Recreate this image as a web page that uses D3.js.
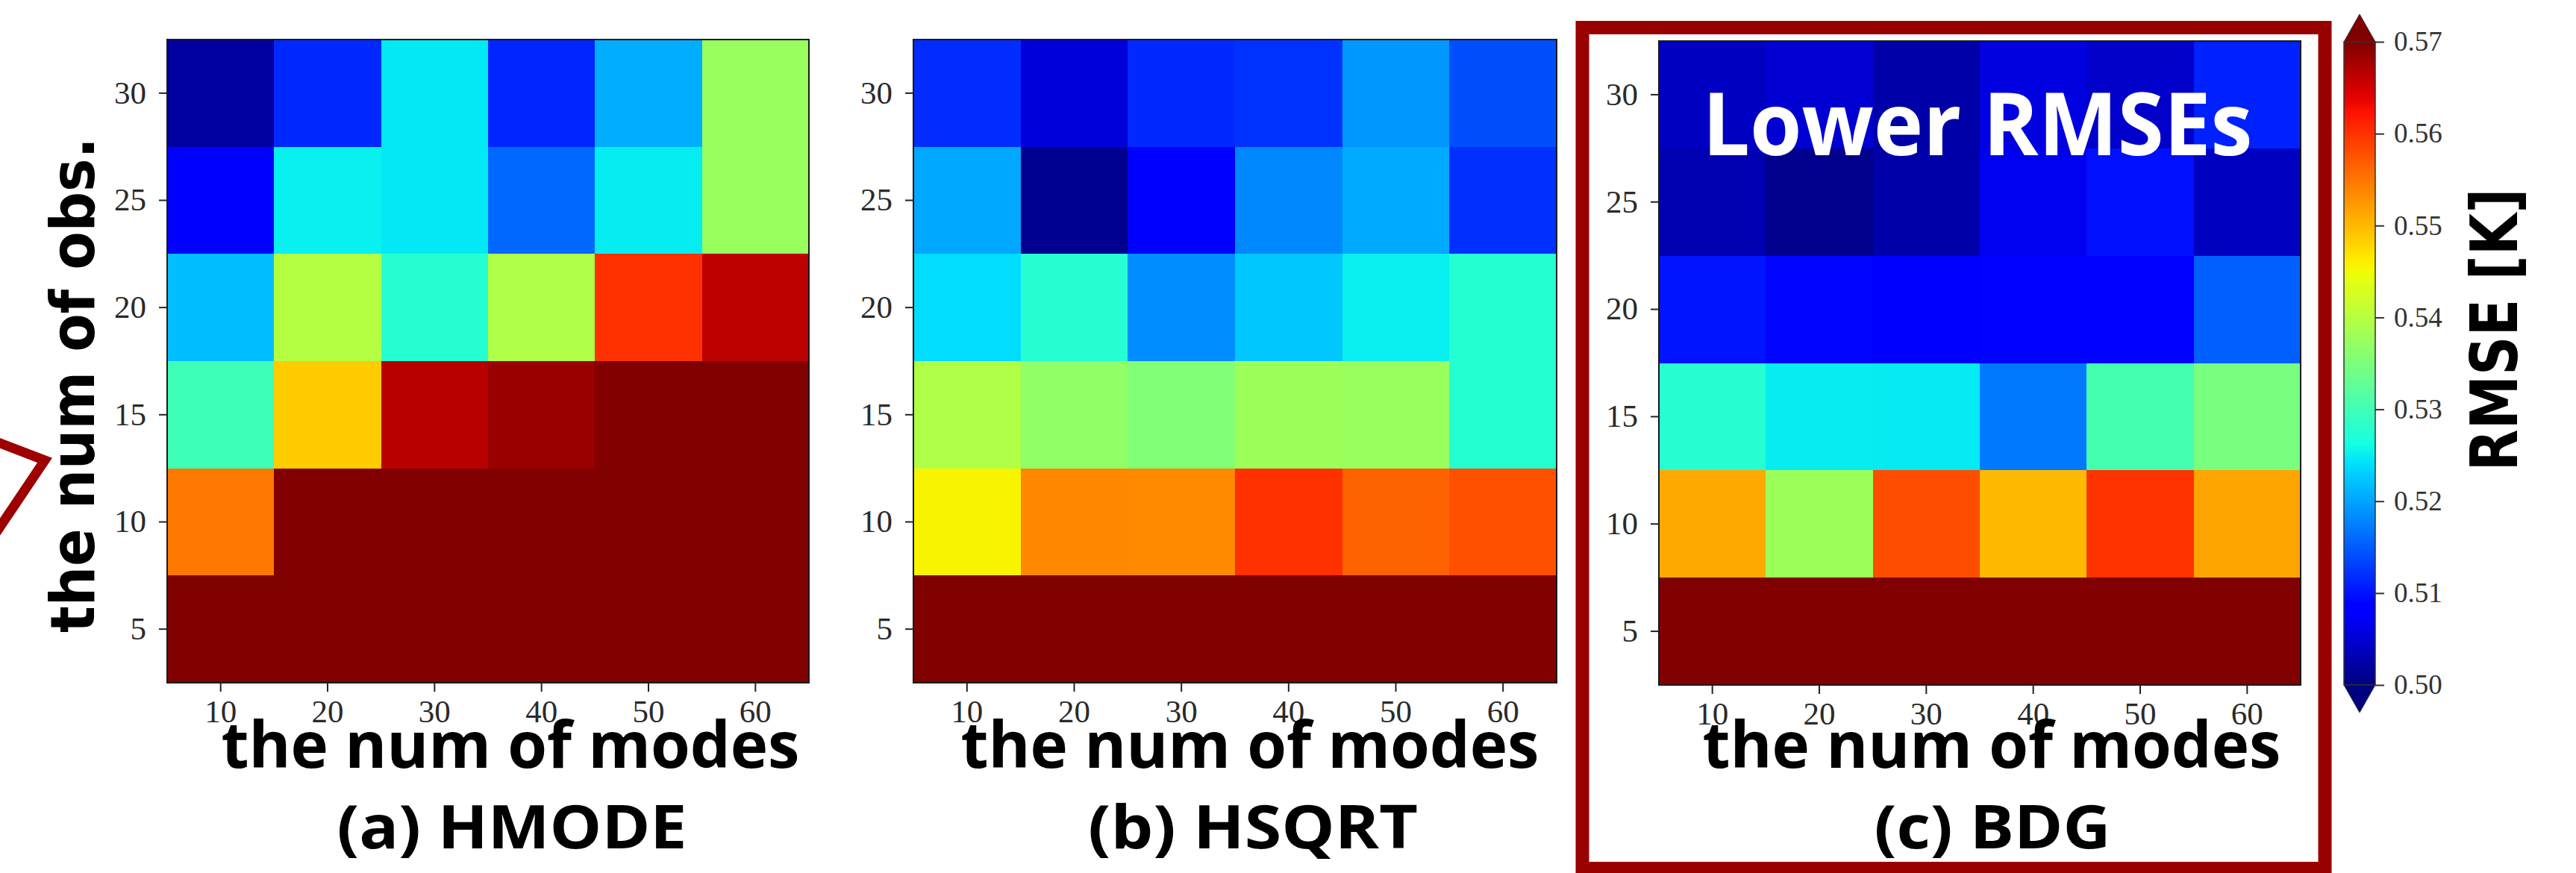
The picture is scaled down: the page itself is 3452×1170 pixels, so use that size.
<!DOCTYPE html>
<html>
<head>
<meta charset="utf-8">
<script src="https://cdn.jsdelivr.net/npm/d3@7"></script>
<style>
  html, body { margin: 0; padding: 0; background: #ffffff; }
  svg { display: block; }
</style>
</head>
<body>
<svg id="chart" width="3452" height="1170"></svg>
<script>
// ---------------- DATA ----------------
const modes = [10, 20, 30, 40, 50, 60];           // x categories (num of modes)
const obsCounts = [30, 25, 20, 15, 10, 5];         // y categories, top to bottom (num of obs.)
const panelLabels = ["(a) HMODE", "(b) HSQRT", "(c) BDG"];
const xAxisTitle = "the num of modes";
const yAxisTitle = "the num of obs.";
const colorbarTitle = "RMSE [K]";
const annotation = "Lower RMSEs";
const colorTicks = [0.50, 0.51, 0.52, 0.53, 0.54, 0.55, 0.56, 0.57];
const colorDomain = [0.50, 0.57];

// RMSE values [K]; rows follow obsCounts (30 .. 5), columns follow modes (10 .. 60)
const rmseHMODE = [
  [0.5020, 0.5115, 0.5247, 0.5113, 0.5206, 0.5375],
  [0.5082, 0.5252, 0.5247, 0.5159, 0.5250, 0.5375],
  [0.5218, 0.5399, 0.5277, 0.5395, 0.5601, 0.5664],
  [0.5298, 0.5486, 0.5666, 0.5684, 0.5800, 0.5850],
  [0.5548, 0.5900, 0.5950, 0.6000, 0.6050, 0.6100],
  [0.6300, 0.6400, 0.6500, 0.6500, 0.6600, 0.6700]
];
const rmseHSQRT = [
  [0.5118, 0.5055, 0.5115, 0.5122, 0.5192, 0.5142],
  [0.5203, 0.5010, 0.5083, 0.5181, 0.5204, 0.5120],
  [0.5239, 0.5277, 0.5184, 0.5225, 0.5252, 0.5276],
  [0.5395, 0.5368, 0.5354, 0.5378, 0.5375, 0.5276],
  [0.5456, 0.5536, 0.5535, 0.5601, 0.5564, 0.5578],
  [0.6000, 0.6000, 0.6050, 0.6050, 0.6100, 0.6100]
];
const rmseBDG = [
  [0.5040, 0.5050, 0.5025, 0.5058, 0.5045, 0.5110],
  [0.5030, 0.5008, 0.5025, 0.5068, 0.5098, 0.5039],
  [0.5101, 0.5090, 0.5080, 0.5088, 0.5088, 0.5153],
  [0.5277, 0.5250, 0.5249, 0.5170, 0.5304, 0.5347],
  [0.5512, 0.5378, 0.5580, 0.5499, 0.5599, 0.5515],
  [0.5900, 0.5900, 0.5950, 0.5950, 0.6000, 0.6000]
];
const panelData = [rmseHMODE, rmseHSQRT, rmseBDG];

// ---------------- LAYOUT ----------------
const panels = [
  { x0: 224,  x1: 1084, y0: 53, y1: 915, titleCx: 684,  capCx: 686,  capW: 469 },
  { x0: 1224, x1: 2086, y0: 53, y1: 915, titleCx: 1675, capCx: 1679, capW: 442 },
  { x0: 2223, x1: 3083, y0: 55, y1: 918, titleCx: 2669, capCx: 2670, capW: 317 }
];
const tickFont = "'Liberation Serif', 'Times New Roman', serif";
const titleFont = "'Open Sans', 'Noto Sans', sans-serif";
const heavyFont = "'DejaVu Sans', Verdana, sans-serif";

// matplotlib "jet" colormap
function interpSeg(seg, t) {
  for (let i = 1; i < seg.length; i++) {
    if (t <= seg[i][0]) {
      const [ta, va] = seg[i - 1], [tb, vb] = seg[i];
      return va + (vb - va) * (t - ta) / (tb - ta);
    }
  }
  return seg[seg.length - 1][1];
}
const jetR = [[0, 0], [0.35, 0], [0.66, 1], [0.89, 1], [1, 0.5]];
const jetG = [[0, 0], [0.125, 0], [0.375, 1], [0.64, 1], [0.91, 0], [1, 0]];
const jetB = [[0, 0.5], [0.11, 1], [0.34, 1], [0.65, 0], [1, 0]];
function jet(t) {
  t = Math.max(0, Math.min(1, t));
  return d3.rgb(255 * interpSeg(jetR, t), 255 * interpSeg(jetG, t), 255 * interpSeg(jetB, t)).formatHex();
}
const color = d3.scaleSequential(jet).domain(colorDomain).clamp(true);

const svg = d3.select("#chart");
svg.append("rect").attr("width", 3452).attr("height", 1170).attr("fill", "#ffffff");

// ---------------- HEATMAPS ----------------
panels.forEach((p, k) => {
  const g = svg.append("g");
  const xs = d3.scaleBand().domain(modes).range([p.x0, p.x1]);
  const ys = d3.scaleBand().domain(obsCounts).range([p.y0, p.y1]);
  const cells = [];
  panelData[k].forEach((row, i) => row.forEach((v, j) => cells.push({ o: obsCounts[i], m: modes[j], v })));
  g.selectAll("rect.cell").data(cells).join("rect")
    .attr("class", "cell")
    .attr("x", d => xs(d.m)).attr("y", d => ys(d.o))
    .attr("width", xs.bandwidth() + 0.6).attr("height", ys.bandwidth() + 0.6)
    .attr("fill", d => color(d.v))
    .attr("shape-rendering", "crispEdges");
  g.append("rect")
    .attr("x", p.x0).attr("y", p.y0)
    .attr("width", p.x1 - p.x0).attr("height", p.y1 - p.y0)
    .attr("fill", "none").attr("stroke", "#1a1a1a").attr("stroke-width", 2);

  const xAxis = g.append("g").attr("transform", `translate(0,${p.y1})`)
    .call(d3.axisBottom(xs).tickSize(12).tickPadding(10));
  const yAxis = g.append("g").attr("transform", `translate(${p.x0},0)`)
    .call(d3.axisLeft(ys).tickSize(11).tickPadding(17));
  [xAxis, yAxis].forEach(a => {
    a.select(".domain").remove();
    a.selectAll(".tick line").attr("stroke", "#222").attr("stroke-width", 2);
    a.selectAll(".tick text").attr("font-family", tickFont).attr("font-size", 43).attr("fill", "#2a2a2a");
  });

  g.append("text")
    .attr("x", p.titleCx).attr("y", 1029)
    .attr("text-anchor", "middle")
    .attr("font-family", titleFont).attr("font-weight", 700).attr("font-size", 86)
    .attr("textLength", 775).attr("lengthAdjust", "spacingAndGlyphs")
    .attr("fill", "#000").text(xAxisTitle);
  g.append("text")
    .attr("x", p.capCx).attr("y", 1137)
    .attr("text-anchor", "middle")
    .attr("font-family", titleFont).attr("font-weight", 700).attr("font-size", 80)
    .attr("textLength", p.capW).attr("lengthAdjust", "spacingAndGlyphs")
    .attr("fill", "#000").text(panelLabels[k]);
});

// Y axis title
svg.append("text")
  .attr("transform", "translate(126,516) rotate(-90)")
  .attr("text-anchor", "middle")
  .attr("font-family", heavyFont).attr("font-weight", 700).attr("font-size", 82)
  .attr("textLength", 664).attr("lengthAdjust", "spacingAndGlyphs")
  .attr("fill", "#000").text(yAxisTitle);

// "Lower RMSEs" annotation
svg.append("text")
  .attr("x", 2650).attr("y", 208)
  .attr("text-anchor", "middle")
  .attr("font-family", titleFont).attr("font-weight", 700).attr("font-size", 116)
  .attr("textLength", 737).attr("lengthAdjust", "spacingAndGlyphs")
  .attr("fill", "#ffffff").text(annotation);

// Highlight box around panel (c)
svg.append("rect")
  .attr("x", 2120.5).attr("y", 37).attr("width", 995).attr("height", 1127)
  .attr("fill", "none").attr("stroke", "#990000").attr("stroke-width", 18);

// Chevron at left edge
svg.append("polyline")
  .attr("points", "-10,590 60,617 -10,721")
  .attr("fill", "none").attr("stroke", "#9e0000").attr("stroke-width", 13)
  .attr("stroke-linejoin", "miter");

// ---------------- COLORBAR ----------------
const cb = { x0: 3141, x1: 3183, y0: 56, y1: 918 };
const cbScale = d3.scaleLinear().domain(colorDomain).range([cb.y1, cb.y0]);
const defs = svg.append("defs");
const grad = defs.append("linearGradient").attr("id", "jetgrad")
  .attr("x1", 0).attr("y1", 1).attr("x2", 0).attr("y2", 0);
d3.range(0, 1.0001, 1 / 64).forEach(t => {
  grad.append("stop").attr("offset", t).attr("stop-color", jet(t));
});
svg.append("rect")
  .attr("x", cb.x0).attr("y", cb.y0).attr("width", cb.x1 - cb.x0).attr("height", cb.y1 - cb.y0)
  .attr("fill", "url(#jetgrad)").attr("stroke", "#333").attr("stroke-width", 1.5);
const cx = (cb.x0 + cb.x1) / 2;
svg.append("path")
  .attr("d", `M${cb.x0},${cb.y0}L${cx},19L${cb.x1},${cb.y0}Z`)
  .attr("fill", color(colorDomain[1] + 1)).attr("stroke", "#333").attr("stroke-width", 1);
svg.append("path")
  .attr("d", `M${cb.x0},${cb.y1}L${cx},955L${cb.x1},${cb.y1}Z`)
  .attr("fill", color(colorDomain[0] - 1)).attr("stroke", "#333").attr("stroke-width", 1);
const cbAxis = svg.append("g").attr("transform", `translate(${cb.x1},0)`)
  .call(d3.axisRight(cbScale).tickValues(colorTicks).tickFormat(d3.format(".2f")).tickSize(12).tickPadding(13));
cbAxis.select(".domain").remove();
cbAxis.selectAll(".tick line").attr("stroke", "#333").attr("stroke-width", 2);
cbAxis.selectAll(".tick text").attr("font-family", tickFont).attr("font-size", 37).attr("fill", "#333");

svg.append("text")
  .attr("transform", "translate(3373,442) rotate(-90)")
  .attr("text-anchor", "middle")
  .attr("font-family", heavyFont).attr("font-weight", 700).attr("font-size", 88)
  .attr("textLength", 379).attr("lengthAdjust", "spacingAndGlyphs")
  .attr("fill", "#000").text(colorbarTitle);
</script>
</body>
</html>
